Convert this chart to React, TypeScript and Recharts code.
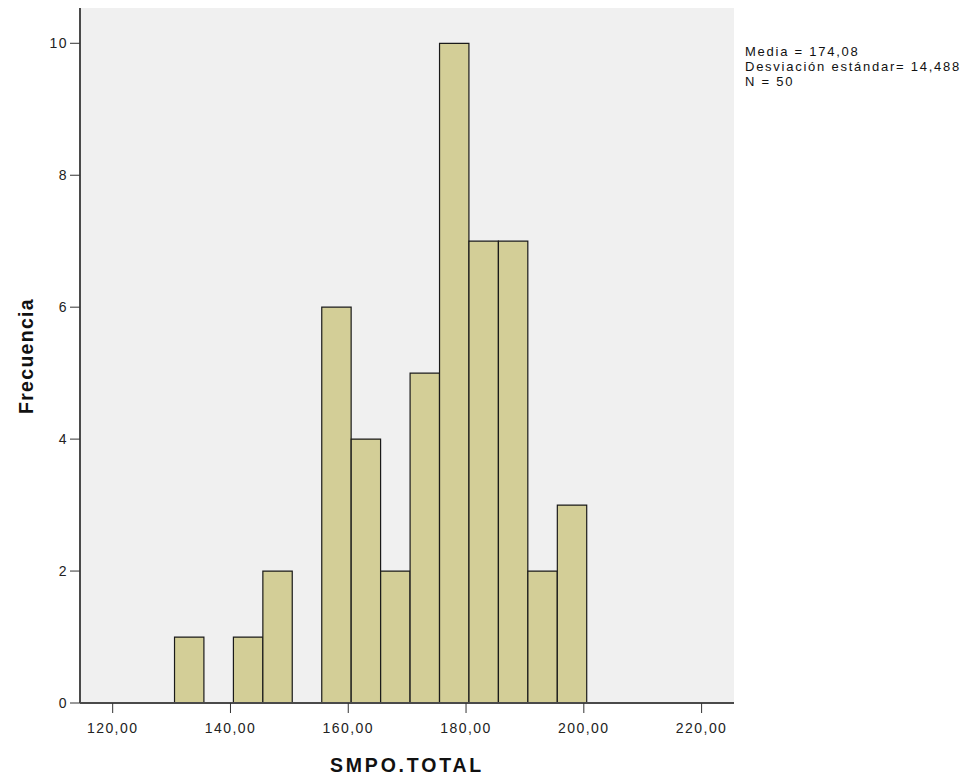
import React from 'react';
import { ComposedChart, Bar, XAxis, YAxis, CartesianGrid } from 'recharts';

// histogram bins (centre of each 5-unit bin) and counts
const binCenters = [133, 138, 143, 148, 153, 158, 163, 168, 173, 178, 183, 188, 193, 198];
const counts = [1, 0, 1, 2, 0, 6, 4, 2, 5, 10, 7, 7, 2, 3];
const xTicks = [120, 140, 160, 180, 200, 220];
const yTicks = [0, 2, 4, 6, 8, 10];
const statsLines = ['Media = 174,08', 'Desviación estándar= 14,488', 'N = 50'];

const data = binCenters.map((mid, i) => ({ mid, count: counts[i] }));

const X_DOMAIN: [number, number] = [114.45, 225.5];
const PLOT_W = 654;
// just under the band size, otherwise recharts shrinks bars to 90%
const BIN_PX = ((5 * PLOT_W) / (X_DOMAIN[1] - X_DOMAIN[0])) * 0.998;

const FONT = '"Liberation Sans", Arial, sans-serif';
const tickStyle = { fontFamily: FONT, fontSize: 14, fill: '#222', letterSpacing: 1.45 };
const frame = { stroke: '#4a4a4a', strokeWidth: 2 };

const fmt = (v: number) => v.toFixed(2).replace('.', ',');

const App: React.FC = () => {
  return (
    <div style={{ position: 'absolute', left: 0, top: 0, width: 974, height: 780, background: '#fff' }}>
      <ComposedChart
        width={974}
        height={780}
        data={data}
        margin={{ top: 8, right: 240, bottom: 0, left: 0 }}
        barCategoryGap={0}
        barGap={0}
      >
        <CartesianGrid fill="#f0f0f0" horizontal={false} vertical={false} />
        <XAxis
          dataKey="mid"
          type="number"
          domain={X_DOMAIN}
          ticks={xTicks}
          allowDataOverflow
          tickFormatter={fmt}
          height={77}
          tickSize={10}
          tickMargin={10}
          tick={tickStyle}
          tickLine={{ stroke: '#333' }}
          axisLine={frame}
          label={{
            content: () => (
              <text
                x={407}
                y={772}
                textAnchor="middle"
                style={{ fontFamily: FONT, fontSize: 19.5, fontWeight: 'bold', letterSpacing: 2.8 }}
                fill="#111"
              >
                SMPO.TOTAL
              </text>
            ),
          }}
        />
        <XAxis xAxisId="top" orientation="top" type="number" domain={X_DOMAIN} height={0} tick={false} tickLine={false} axisLine={frame} />
        <YAxis
          type="number"
          domain={[0, 10.535]}
          ticks={yTicks}
          allowDataOverflow
          width={80}
          tickSize={10}
          tickMargin={2}
          tick={tickStyle}
          tickLine={{ stroke: '#333' }}
          axisLine={frame}
          label={{
            content: () => (
              <text
                x={33}
                y={356}
                transform="rotate(-90, 33, 356)"
                textAnchor="middle"
                style={{ fontFamily: FONT, fontSize: 19.5, fontWeight: 'bold', letterSpacing: 1.3 }}
                fill="#111"
              >
                Frecuencia
              </text>
            ),
          }}
        />
        <YAxis yAxisId="right" orientation="right" domain={[0, 10.535]} width={0} tick={false} tickLine={false} axisLine={frame} />
        <Bar
          dataKey="count"
          fill="#d3ce97"
          stroke="#1a1a1a"
          strokeWidth={1.2}
          barSize={BIN_PX}
          isAnimationActive={false}
        />
      </ComposedChart>
      <div
        style={{
          position: 'absolute',
          left: 745,
          top: 44,
          fontFamily: FONT,
          fontSize: 13,
          lineHeight: '15px',
          letterSpacing: 1.75,
          color: '#111',
          whiteSpace: 'nowrap',
        }}
      >
        {statsLines.map((s) => (
          <div key={s}>{s}</div>
        ))}
      </div>
    </div>
  );
};

export default App;
